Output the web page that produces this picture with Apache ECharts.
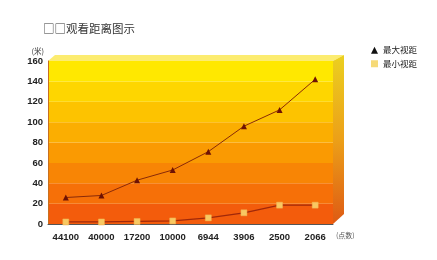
<!DOCTYPE html>
<html><head><meta charset="utf-8">
<script src="https://cdn.jsdelivr.net/npm/echarts@6/dist/echarts.min.js"></script>
<style>html,body{margin:0;padding:0;background:#fff}#c{width:437px;height:260px}</style>
</head><body><div id="c"></div>
<script>
const categories = ['44100','40000','17200','10000','6944','3906','2500','2066'];
const maxDistance = [26, 28, 43, 53, 71, 96, 112, 142];
const minDistance = [2, 2, 2.5, 3, 6, 11, 18.5, 18.5];
const titleText = '□□观看距离图示';
const seriesNames = ['最大视距', '最小视距'];
const bandColors = ['#F35C0C','#F67008','#F88505','#FA9A02','#FBAE01','#FDC300','#FED600','#FFE800'];

const chart = echarts.init(document.getElementById('c'), null, {renderer:'canvas'});
const font = '"Liberation Sans", Arial, sans-serif';
const cjk = '"Noto Sans CJK SC", sans-serif';
chart.setOption({
  animation:false,
  backgroundColor:'#fff',
  title:{text:titleText, left:38, top:18, textStyle:{fontFamily:cjk, fontSize:11.5, fontWeight:'normal', color:'#333'}},
  legend:{
    right:15, top:41, orient:'vertical', itemGap:5, itemWidth:7, itemHeight:7,
    textStyle:{fontFamily:cjk, fontSize:8.5, color:'#222'},
    data:[{name:seriesNames[0], icon:'triangle', itemStyle:{color:'#111'}},
          {name:seriesNames[1], icon:'rect', itemStyle:{color:'#F6DA78', borderWidth:0}}]
  },
  grid:{left:48, right:104, top:61, bottom:36, containLabel:false},
  xAxis:{
    type:'category', data:categories, boundaryGap:true,
    name:'(点数)', nameLocation:'end', nameGap:3,
    nameTextStyle:{fontFamily:cjk, fontSize:7, color:'#555', verticalAlign:'top', padding:[8,0,0,0]},
    axisLine:{lineStyle:{color:'#555', width:1}},
    axisTick:{show:false},
    axisLabel:{fontFamily:font, fontSize:9.5, fontWeight:'bold', color:'#222', margin:8}
  },
  yAxis:{
    type:'value', min:0, max:160, interval:20,
    name:'(米)', nameLocation:'end', nameGap:6,
    nameTextStyle:{fontFamily:cjk, fontSize:7.5, color:'#333', align:'right', padding:[0,4,0,0]},
    axisLine:{show:true, lineStyle:{color:'#C87020', width:1}},
    axisTick:{show:false},
    splitLine:{show:false},
    splitArea:{show:true, areaStyle:{color:bandColors}},
    axisLabel:{fontFamily:font, fontSize:9.5, fontWeight:'bold', color:'#222', margin:5}
  },
  graphic:[
    {type:'polygon', z:-1, shape:{points:[[48,61],[55,55],[344,55],[333,61]]},
     style:{fill:'#FCEC70'}},
    {type:'polygon', z:-1, shape:{points:[[333,61],[344,55],[344,214],[333,224]]},
     style:{fill:{type:'linear',x:0,y:0,x2:0,y2:1,colorStops:[{offset:0,color:'#EBD020'},{offset:0.5,color:'#ECA018'},{offset:1,color:'#DE5A14'}]}}}
  ],
  series:[
    {name:seriesNames[0], type:'line', data:maxDistance, symbol:'triangle', symbolSize:6,
     lineStyle:{color:'#8A2A08', width:1}, itemStyle:{color:'#6E1204'}},
    {name:seriesNames[1], type:'line', data:minDistance, symbol:'rect', symbolSize:6,
     lineStyle:{color:'#A0280A', width:1.2}, itemStyle:{color:'#F8C862', borderColor:'#F0B050', borderWidth:0.5}}
  ]
});
</script></body></html>
